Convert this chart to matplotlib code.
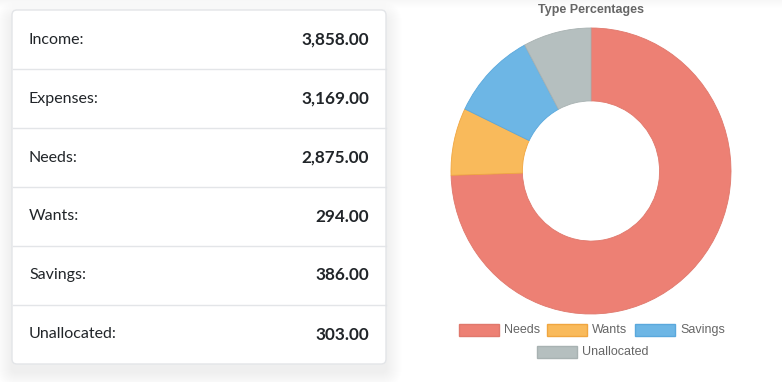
import matplotlib.pyplot as plt
from matplotlib.patches import FancyBboxPatch, Rectangle

# table values
labels = ['Income:', 'Expenses:', 'Needs:', 'Wants:', 'Savings:', 'Unallocated:']
amounts = [3858.00, 3169.00, 2875.00, 294.00, 386.00, 303.00]

# donut values
types = ['Needs', 'Wants', 'Savings', 'Unallocated']
type_values = [2875, 294, 386, 303]
type_colors = ['#ED8074', '#F9BA5B', '#6DB6E5', '#B5BFBF']
type_edges = ['#E0786C', '#F0A640', '#5AA8DC', '#A8B2B2']

W, H = 782, 382
fig = plt.figure(figsize=(W / 100, H / 100), dpi=100)
fig.patch.set_facecolor('white')

# pixel axes for the card
bg = fig.add_axes([0, 0, 1, 1])
bg.set_xlim(0, W)
bg.set_ylim(H, 0)
bg.axis('off')

# faint shadow across the top
for i in range(8):
    bg.add_patch(Rectangle((0, i), W, 1, color='black', alpha=0.03 * (1 - i / 8), lw=0))

# card shadow (soft, offset down)
cx0, cy0, cx1, cy1 = 12, 10, 386, 364
n = 16
for i in range(n):
    g = n - i
    bg.add_patch(FancyBboxPatch((cx0 - g, cy0 + 8 - g), (cx1 - cx0) + 2 * g,
                                (cy1 - cy0) + 2 * g,
                                boxstyle='round,pad=0,rounding_size=%d' % (5 + g),
                                fc='black', ec='none', alpha=0.0055, lw=0))
bg.add_patch(FancyBboxPatch((cx0, cy0), cx1 - cx0, cy1 - cy0,
                            boxstyle='round,pad=0,rounding_size=5',
                            fc='white', ec='#E3E5E8', lw=1))

row_h = (cy1 - cy0) / len(labels)
for i, (lab, val) in enumerate(zip(labels, amounts)):
    y = cy0 + row_h * (i + 0.5)
    bg.text(29, y, lab, family='Lato', fontsize=11.5, color='#212529', va='center', ha='left')
    bg.text(369, y, f'{val:,.2f}', family='Lato', fontsize=12.3, fontweight='bold',
            color='#212529', va='center', ha='right')
    if i > 0:
        yl = cy0 + row_h * i
        bg.plot([cx0 + 0.5, cx1 - 0.5], [yl, yl], color='#E3E5E8', lw=1)

# donut
pcx, pcy, rx, ry = 591, 171, 140, 143
pie_ax = fig.add_axes([(pcx - rx) / W, (H - pcy - ry) / H, 2 * rx / W, 2 * ry / H])
wedges, _ = pie_ax.pie(type_values, colors=type_colors, startangle=90, counterclock=False,
                       radius=1, wedgeprops=dict(width=0.51, linewidth=0.6))
for w, ec in zip(wedges, type_edges):
    w.set_edgecolor(ec)
pie_ax.set_aspect('auto')
pie_ax.set_xlim(-1, 1)
pie_ax.set_ylim(-1, 1)
pie_ax.axis('off')

bg.text(591, 10, 'Type Percentages', family='Liberation Sans', fontsize=9, fontweight='bold',
        color='#666666', ha='center', va='center')

# legend (chart.js style, two rows)
legend_pos = [(459, 330), (547, 330), (635, 330), (537, 352)]
for (lx, ly), name, fc, ec in zip(legend_pos, types, type_colors, type_edges):
    bg.add_patch(Rectangle((lx, ly - 6), 40, 12, fc=fc, ec=ec, lw=1))
    bg.text(lx + 45, ly, name, family='Liberation Sans', fontsize=9, color='#666666',
            ha='left', va='center')

fig.savefig('out.png', dpi=100)
